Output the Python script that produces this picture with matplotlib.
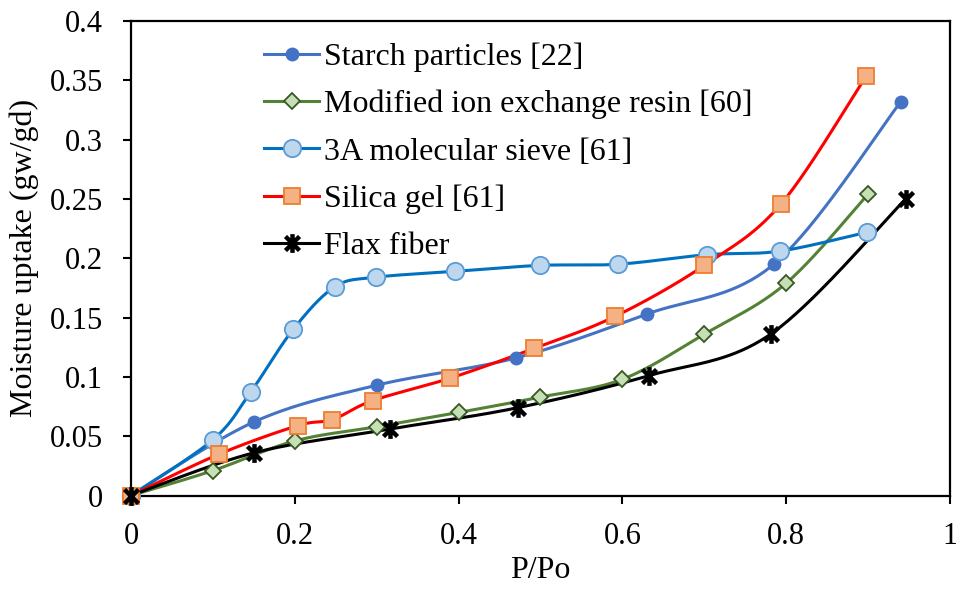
import numpy as np
import matplotlib
matplotlib.use("Agg")
import matplotlib.pyplot as plt
from matplotlib.path import Path

# Moisture sorption isotherms (P/Po vs. uptake)
starch_x = [0, 0.15, 0.30, 0.47, 0.63, 0.785, 0.94]
starch_y = [0, 0.062, 0.093, 0.116, 0.153, 0.195, 0.332]

resin_x = [0, 0.10, 0.20, 0.30, 0.40, 0.50, 0.60, 0.70, 0.80, 0.90]
resin_y = [0, 0.021, 0.046, 0.058, 0.070, 0.083, 0.098, 0.136, 0.179, 0.254]

sieve_x = [0, 0.10, 0.146, 0.198, 0.249, 0.299, 0.396, 0.499, 0.595, 0.703, 0.792, 0.899]
sieve_y = [0, 0.047, 0.087, 0.140, 0.176, 0.184, 0.189, 0.194, 0.195, 0.203, 0.206, 0.222]

silica_x = [0, 0.108, 0.204, 0.246, 0.295, 0.39, 0.492, 0.591, 0.70, 0.794, 0.898]
silica_y = [0, 0.035, 0.059, 0.064, 0.080, 0.099, 0.124, 0.151, 0.194, 0.246, 0.354]

flax_x = [0, 0.15, 0.316, 0.472, 0.632, 0.781, 0.946]
flax_y = [0, 0.036, 0.056, 0.074, 0.101, 0.136, 0.25]

labels = ["Starch particles [22]", "Modified ion exchange resin [60]",
          "3A molecular sieve [61]", "Silica gel [61]", "Flax fiber"]

x_ticks = [0, 0.2, 0.4, 0.6, 0.8, 1]
x_tick_labels = ["0", "0.2", "0.4", "0.6", "0.8", "1"]
y_ticks = [0, 0.05, 0.1, 0.15, 0.2, 0.25, 0.3, 0.35, 0.4]
y_tick_labels = ["0", "0.05", "0.1", "0.15", "0.2", "0.25", "0.3", "0.35", "0.4"]


def smooth(xs, ys, n=40):
    """Bezier smoothing through every point (Catmull-Rom style)."""
    p = np.column_stack([xs, ys]).astype(float)
    ext = np.vstack([p[0], p, p[-1]])
    out = []
    t = np.linspace(0, 1, n)[:, None]
    for i in range(len(p) - 1):
        p0, p1, p2, p3 = ext[i], ext[i + 1], ext[i + 2], ext[i + 3]
        c1 = p1 + (p2 - p0) / 6.0
        c2 = p2 - (p3 - p1) / 6.0
        seg = ((1 - t) ** 3) * p1 + 3 * ((1 - t) ** 2) * t * c1 \
            + 3 * (1 - t) * t ** 2 * c2 + t ** 3 * p2
        out.append(seg if i == 0 else seg[1:])
    s = np.vstack(out)
    return s[:, 0], s[:, 1]


asterisk = Path(
    [(0, -1), (0, 1), (-0.75, -0.75), (0.75, 0.75), (-0.75, 0.75), (0.75, -0.75)],
    [Path.MOVETO, Path.LINETO, Path.MOVETO, Path.LINETO, Path.MOVETO, Path.LINETO],
)

plt.rcParams["font.family"] = ["Liberation Serif", "DejaVu Serif"]

fig = plt.figure(figsize=(9.56, 5.89), dpi=100)
ax = fig.add_axes([0.137, 0.1587, 0.8567, 0.8056])

lw = 2.2
series = [
    (starch_x, starch_y, dict(color="#4472C4", marker="o", ms=9, mfc="#4472C4", mec="#4472C4", mew=1)),
    (resin_x, resin_y, dict(color="#548235", marker="D", ms=8.5, mfc="#C5E0B4", mec="#385723", mew=1.3)),
    (sieve_x, sieve_y, dict(color="#0070C0", marker="o", ms=12.5, mfc="#BDD7EE", mec="#5B9BD5", mew=1.3)),
    (silica_x, silica_y, dict(color="#FF0000", marker="s", ms=12, mfc="#F4B183", mec="#ED7D31", mew=1.3)),
    (flax_x, flax_y, dict(color="black", marker=asterisk, ms=13.5, mfc="black", mec="black", mew=3.2)),
]

handles = []
for (xs, ys, st), lab in zip(series, labels):
    sx, sy = smooth(xs, ys)
    ax.plot(sx, sy, color=st["color"], lw=lw, solid_capstyle="round", zorder=2)
    ax.plot(xs, ys, ls="none", marker=st["marker"], ms=st["ms"], mfc=st["mfc"],
            mec=st["mec"], mew=st["mew"], zorder=3, clip_on=False)
    h, = ax.plot([], [], color=st["color"], lw=lw, marker=st["marker"], ms=st["ms"],
                 mfc=st["mfc"], mec=st["mec"], mew=st["mew"], label=lab)
    handles.append(h)

ax.set_xlim(0, 1)
ax.set_ylim(0, 0.4)
ax.set_xticks(x_ticks)
ax.set_xticklabels(x_tick_labels)
ax.set_yticks(y_ticks)
ax.set_yticklabels(y_tick_labels)
ax.tick_params(axis="both", direction="out", length=6, width=1.5, labelsize=22)
ax.tick_params(axis="y", pad=14)
ax.tick_params(axis="x", pad=13)
for sp in ax.spines.values():
    sp.set_linewidth(1.6)

ax.set_xlabel("P/Po", fontsize=23, labelpad=4)
ax.set_ylabel("Moisture uptake (gw/gd)", fontsize=23, labelpad=8)

ax.legend(handles=handles, loc="upper left", bbox_to_anchor=(0.163, 0.955),
          frameon=False, fontsize=23, handlelength=1.7, handletextpad=0.15,
          labelspacing=0.56, borderaxespad=0, borderpad=0)

fig.savefig("out.png", dpi=100)
